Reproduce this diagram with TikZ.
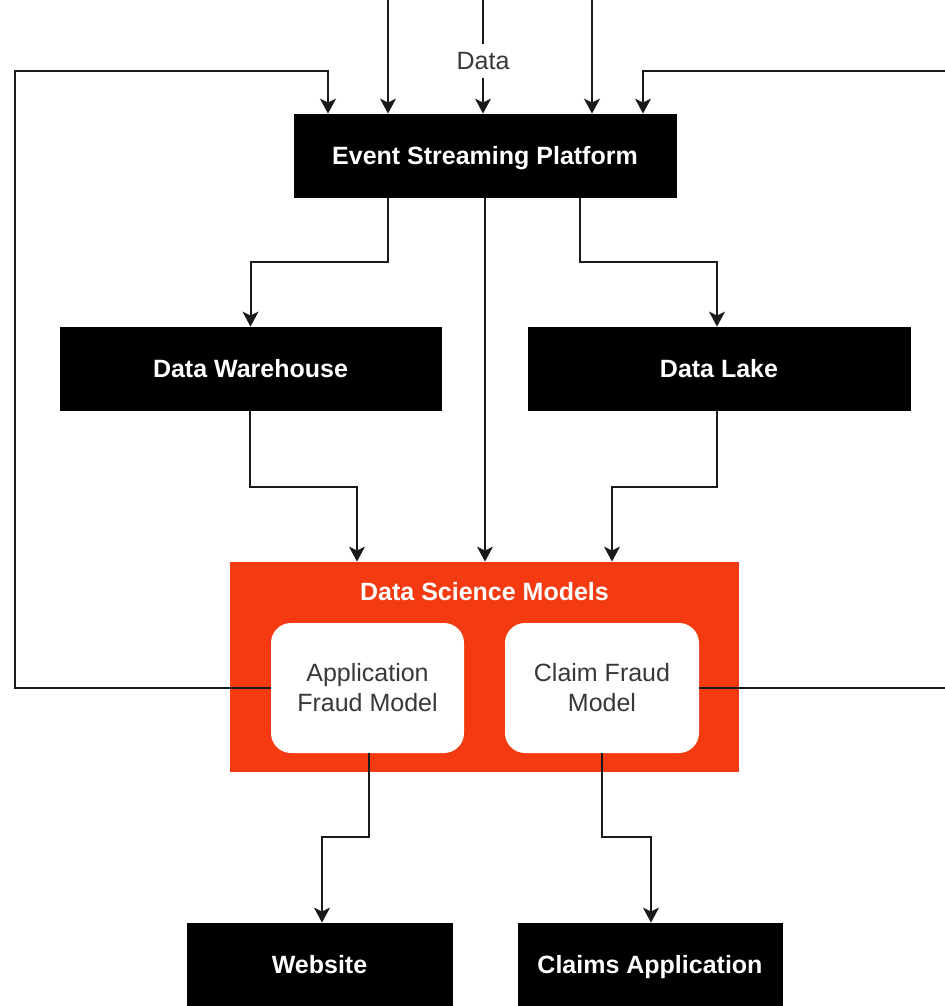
\documentclass[tikz,border=0pt]{standalone}
\usepackage{fontspec}
\setmainfont{Liberation Sans}
\usetikzlibrary{arrows.meta}
\definecolor{dsorange}{HTML}{F33A10}
\definecolor{lnc}{HTML}{1A1A1A}
\tikzset{
  blk/.style={draw=black, fill=black, text=white, font=\bfseries\fontsize{12.5}{15}\selectfont, inner sep=0pt, text height=9pt, text depth=0pt},
  mdl/.style={fill=white, draw=none, rounded corners=10pt, font=\fontsize{12.5}{15}\selectfont, text=black!78, align=center, inner sep=0pt},
  arr/.style={draw=lnc, line width=1pt, -{Stealth[length=7.5pt,width=8pt,inset=2pt]}},
  ln/.style={draw=lnc, line width=1pt},
  lbl/.style={font=\fontsize{12.5}{15}\selectfont, text=black!78, inner sep=0pt, text height=9pt, text depth=0pt}
}
\begin{document}
\begin{tikzpicture}[x=0.5pt,y=-0.5pt]
\useasboundingbox (0,0) rectangle (945,1006);
\clip (0,0) rectangle (945,1006);

% nodes
\node[blk, minimum width=191pt, minimum height=41.5pt] (esp) at (485,155.5) {Event Streaming Platform};
\node[blk, minimum width=190.5pt, minimum height=41.5pt] (dw) at (250.5,368.5) {Data Warehouse};
\node[blk, minimum width=191pt, minimum height=41.5pt] (dl) at (719,368.5) {Data Lake};
\node[fill=dsorange, draw=none, minimum width=254.5pt, minimum height=105pt, inner sep=0pt] (dsm) at (484.5,667) {};
\node[text=white, font=\bfseries\fontsize{12.5}{15}\selectfont, inner sep=0pt, text height=9pt, text depth=0pt] (dsmt) at (484.5,591) {Data Science Models};
\node[mdl, minimum width=96.5pt, minimum height=65pt] (app) at (367.5,688) {Application\\Fraud Model};
\node[mdl, minimum width=97pt, minimum height=65pt] (clm) at (602,688) {Claim Fraud\\Model};
\node[blk, minimum width=132.5pt, minimum height=41.5pt] (web) at (319.5,964.5) {Website};
\node[blk, minimum width=132pt, minimum height=41.5pt] (capp) at (650,964.5) {Claims Application};
\node[lbl] (data) at (483,61) {Data};

% helper coordinates
\coordinate (t1) at (388,0);
\coordinate (t2) at (483,0);
\coordinate (t3) at (592,0);
\coordinate (lx) at (15,71);
\coordinate (lt) at (328,71);
\coordinate (rx) at (948,71);
\coordinate (rt) at (643,71);
\coordinate (e1) at (388,262);
\coordinate (e2) at (580,262);
\coordinate (e3) at (485,0);
\coordinate (w1) at (250,487);
\coordinate (w2) at (357,487);
\coordinate (k1) at (717,487);
\coordinate (k2) at (612,487);
\coordinate (a1) at (369,837);
\coordinate (a2) at (322,837);
\coordinate (c1) at (602,837);
\coordinate (c2) at (651,837);

% incoming data
\draw[arr] (t1) -- (t1 |- esp.north);
\draw[ln] (t2) -- ([yshift=4pt]data.north);
\draw[arr] ([yshift=-4pt]data.south) -- (t2 |- esp.north);
\draw[arr] (t3) -- (t3 |- esp.north);

% feedback loops
\draw[arr] (app.west) -- (app.west -| lx) -- (lx) -- (lt) -- (lt |- esp.north);
\draw[arr] (clm.east) -- (clm.east -| rx) -- (rx) -- (rt) -- (rt |- esp.north);

% ESP outputs
\draw[arr] (esp.south -| e1) -- (e1) -- (e1 -| dw) -- (dw.north);
\draw[arr] (esp.south -| e2) -- (e2) -- (e2 -| k1) -- (dl.north -| k1);
\draw[arr] (esp.south -| e3) -- (dsm.north -| e3);

% stores to models
\draw[arr] (dw.south -| w1) -- (w1) -- (w2) -- (dsm.north -| w2);
\draw[arr] (dl.south -| k1) -- (k1) -- (k2) -- (dsm.north -| k2);

% models to apps
\draw[arr] (app.south -| a1) -- (a1) -- (a2) -- (web.north -| a2);
\draw[arr] (clm.south -| c1) -- (c1) -- (c2) -- (capp.north -| c2);
\end{tikzpicture}
\end{document}
